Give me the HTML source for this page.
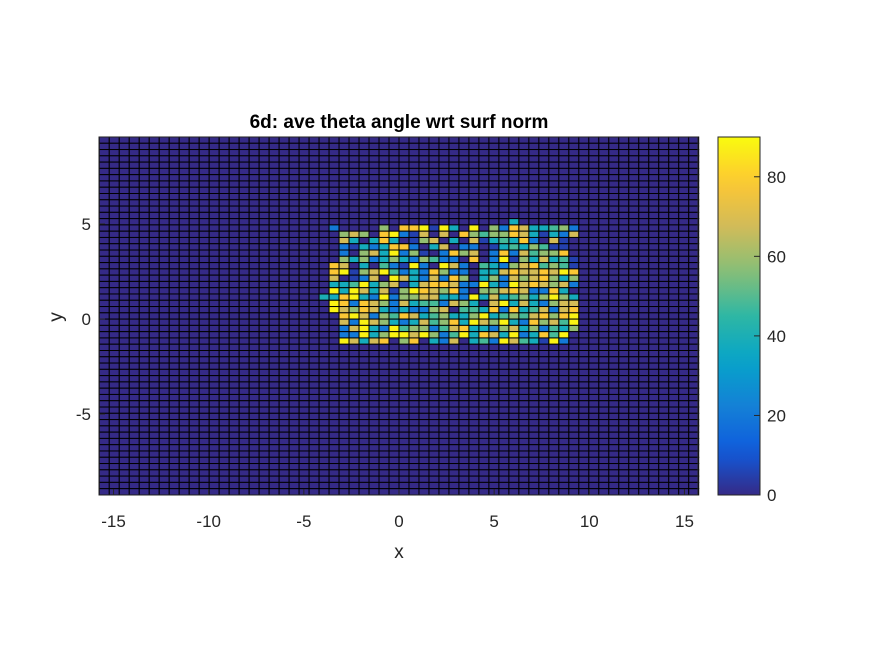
<!DOCTYPE html>
<html><head><meta charset="utf-8"><style>
html,body{margin:0;padding:0;background:#fff;}
svg text{font-family:"Liberation Sans",Arial,sans-serif;fill:#262626;}
</style></head><body>
<svg id="chart" width="875" height="656" viewBox="0 0 875 656" xmlns="http://www.w3.org/2000/svg">
<rect width="875" height="656" fill="#fff"/>
<text x="399" y="128" font-size="19" font-weight="bold" text-anchor="middle" style="fill:#000">6d: ave theta angle wrt surf norm</text>
<g id="cells"></g>
<rect x="99" y="137" width="599" height="358" fill="none" stroke="#262626" stroke-width="1"/>
<g id="axes"></g>
<text x="399" y="558" font-size="19" text-anchor="middle">x</text>
<text x="62" y="317" font-size="19" text-anchor="middle" transform="rotate(-90 62 317)">y</text>
<defs><linearGradient id="parula" x1="0" y1="1" x2="0" y2="0"></linearGradient></defs>
<rect x="718" y="137" width="42" height="358" fill="url(#parula)" stroke="#262626" stroke-width="1"/>
<g id="cbar"></g>
</svg>
<script>
const xTicks=[-15,-10,-5,0,5,10,15];
const yTicks=[5,0,-5];
const cTicks=[0,20,40,60,80];
const nCols=60, nRows=57;
const xMin=-15.75, xMax=15.75, yTop=9.58, yBot=-9.26;
const cMax=90;
const firstActiveCol=23, firstActiveRow=13;
const levels={'.':0,'d':5,'b':20,'c':38,'t':48,'g':58,'o':68,'y':78,'Y':88};
const rows=[
"..................c......",
"b....g.yyYdYc.Y.gbyocctgb",
".gog.yYbdo.o.ygtggyocdcbo",
".oc.cyc.dgo.c.odctcyb.od.",
".bdcbcyyb.co.bb.dctcgtdd.",
".b.gocYbgd.bygo.bybotggy.",
".gcgbcgcbgtbb.y.bYdgcoctd",
"yo.c.tbdYb.Yob.tcbgoytgtd",
"yYdgoYtbcbygbb.ccoyooyoYy",
"o.dbo.Yocbobyg.cgbogoygcg",
"cctYcgodcoyyobbYcbYoyogob",
"YcYocodgYyogyb.ggoyobbyc.",
"cyYcbYbggooccbYcoctgcgYgc",
"Yybyogbocttbogc.oYcocbgoo",
"Yogyocbcbbgo.ttcybyctoboy",
".yYobgtyoctgccgYctgtoygyY",
".obYogcbcotgycYogYcbygotY",
".boYcbYtggbtoyccbgocgbtcg",
".bbYcgYYoYgbtYcyocYbcytY.",
".Yocoy.gy.cbo.ctbYotcdYb."
];
const stray=[{col:22,row:25,v:40}];
const stops=[[0,[53,42,135]],[0.125,[15,92,221]],[0.25,[20,129,214]],[0.375,[6,164,202]],[0.5,[46,183,164]],[0.625,[135,191,119]],[0.75,[209,187,89]],[0.875,[254,200,50]],[1,[249,251,14]]];
function parula(t){t=Math.max(0,Math.min(1,t));for(let i=1;i<stops.length;i++){if(t<=stops[i][0]){const a=stops[i-1],b=stops[i];const f=(t-a[0])/(b[0]-a[0]);const c=a[1].map((v,k)=>Math.round(v+(b[1][k]-v)*f));return `rgb(${c[0]},${c[1]},${c[2]})`;}}return 'rgb(249,251,14)';}
const xScale=x=>399+x*19.03;
const yScale=y=>319-y*19.0;
const cScale=v=>495-v/cMax*358;
const NS="http://www.w3.org/2000/svg";
const dx=(xMax-xMin)/nCols, dy=(yTop-yBot)/nRows;
const grid=[];
for(let r=0;r<nRows;r++){grid.push(new Array(nCols).fill(0));}
rows.forEach((s,ri)=>{for(let ci=0;ci<s.length;ci++){const r=firstActiveRow+ri,c=firstActiveCol+ci;if(r<nRows&&c<nCols)grid[r][c]=levels[s[ci]]??0;}});
stray.forEach(p=>{grid[p.row][p.col]=p.v;});
const cells=document.getElementById('cells');
for(let r=0;r<nRows;r++)for(let c=0;c<nCols;c++){
const x0=xScale(xMin+c*dx),x1=xScale(xMin+(c+1)*dx),y0=yScale(yTop-r*dy),y1=yScale(yTop-(r+1)*dy);
const el=document.createElementNS(NS,'rect');


el.setAttribute('x',x0);el.setAttribute('y',y0);el.setAttribute('width',x1-x0);el.setAttribute('height',y1-y0);
el.setAttribute('fill',parula(grid[r][c]/cMax));el.setAttribute('stroke','#000');el.setAttribute('stroke-width','1');
cells.appendChild(el);}
const axes=document.getElementById('axes');
function txt(parent,x,y,s,anchor,name){const t=document.createElementNS(NS,'text');


t.setAttribute('x',x);t.setAttribute('y',y);t.setAttribute('font-size','17');t.setAttribute('text-anchor',anchor);t.textContent=s;parent.appendChild(t);}
function line(parent,x1,y1,x2,y2,name){const l=document.createElementNS(NS,'line');


l.setAttribute('x1',x1);l.setAttribute('y1',y1);l.setAttribute('x2',x2);l.setAttribute('y2',y2);l.setAttribute('stroke','#262626');parent.appendChild(l);}
xTicks.forEach(v=>{const x=xScale(v);line(axes,x,495,x,489,'x-tick');txt(axes,x,527,String(v),'middle','x-tick-label');});
yTicks.forEach(v=>{const y=yScale(v);line(axes,99,y,105,y,'y-tick');txt(axes,91,y+6,String(v),'end','y-tick-label');});
const grad=document.getElementById('parula');
for(let i=0;i<=20;i++){const s=document.createElementNS(NS,'stop');s.setAttribute('offset',i/20);s.setAttribute('stop-color',parula(i/20));grad.appendChild(s);}
const cbar=document.getElementById('cbar');
cTicks.forEach(v=>{const y=cScale(v);line(cbar,754,y,760,y,'colorbar-tick');txt(cbar,767,y+6,String(v),'start','colorbar-tick-label');});
</script>
</body></html>
